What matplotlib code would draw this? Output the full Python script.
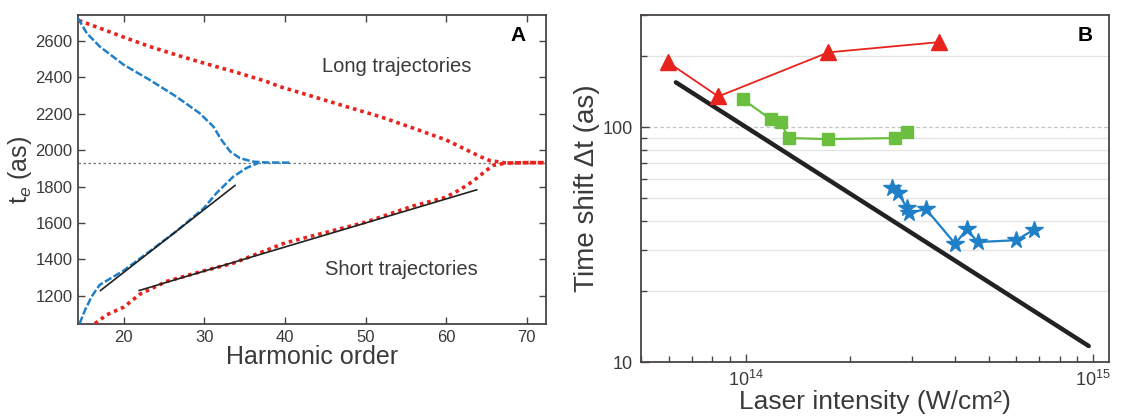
import numpy as np
import matplotlib.pyplot as plt
from matplotlib.ticker import LogLocator, NullFormatter, FixedLocator, FixedFormatter

plt.rcParams['font.family'] = ['Liberation Sans', 'DejaVu Sans']
plt.rcParams['mathtext.fontset'] = 'custom'
plt.rcParams['mathtext.rm'] = 'Liberation Sans'
plt.rcParams['mathtext.it'] = 'Liberation Sans:italic'

# --- panel A: emission time vs harmonic order ---
long_blue_h = [14.3, 15.4, 17.0, 20.0, 23.2, 26.5, 29.4, 31.1, 32.1, 33.2, 34.4, 36.0, 37.7, 40.8]
long_blue_t = [2725, 2642, 2569, 2468, 2386, 2294, 2203, 2130, 2057, 1992, 1956, 1937, 1932, 1931]
short_blue_h = [14.5, 15.2, 16.0, 17.0, 20.0, 23.2, 26.5, 29.9, 31.5, 33.6, 35.2, 36.7]
short_blue_t = [1047, 1123, 1196, 1260, 1339, 1444, 1554, 1680, 1764, 1855, 1901, 1930]

long_red_h = [14.4, 17.0, 20.0, 23.2, 26.5, 29.9, 33.6, 37.7, 39.4, 43.5, 47.6, 51.8, 55.9,
              60.0, 62.5, 64.2, 65.4, 67.5, 70.0, 72.4]
long_red_t = [2712, 2670, 2620, 2569, 2523, 2478, 2432, 2377, 2348, 2294, 2239, 2184, 2121,
              2056, 2002, 1965, 1943, 1929, 1931, 1931]
short_red_h = [16.4, 17.9, 20.0, 22.0, 25.3, 29.9, 33.6, 40.0, 50.0, 55.9, 59.9, 61.7, 63.3,
               64.6, 65.8, 67.5, 70.0, 72.4]
short_red_t = [1047, 1096, 1138, 1209, 1279, 1337, 1379, 1490, 1604, 1693, 1740, 1782, 1828,
               1874, 1916, 1929, 1931, 1931]

fit_long_h = [17.1, 33.8]
fit_long_t = [1229, 1806]
fit_short_h = [21.9, 63.8]
fit_short_t = [1229, 1782]
te_cutoff = 1930

# --- panel B: time shift vs laser intensity ---
tri_I = [5.97e13, 8.34e13, 1.73e14, 3.6e14]
tri_dt = [189, 135, 208, 230]
sq_I = [9.8e13, 1.18e14, 1.26e14, 1.33e14, 1.73e14, 2.68e14, 2.91e14]
sq_dt = [131.6, 108, 105, 89.8, 88.9, 89.8, 95.2]
star_I = [2.63e14, 2.75e14, 2.91e14, 2.95e14, 3.30e14, 4.01e14, 4.32e14, 4.65e14, 6.0e14, 6.73e14]
star_dt = [55.0, 52.4, 45.2, 43.0, 44.8, 31.8, 36.8, 32.4, 33.0, 36.5]
theory_I = [6.3e13, 9.7e14]
theory_dt = [155, 11.7]

RED = "#e8221c"
BLUE = "#1f7fc7"
GREEN = "#6bbf3f"
TXT = "#3a3a3a"
SPINE = "#4a4444"

fig = plt.figure(figsize=(11.28, 4.19), dpi=100)
axA = fig.add_axes([0.0691, 0.2267, 0.4149, 0.7375])
axB = fig.add_axes([0.5683, 0.136, 0.4149, 0.8282])

# ---------- A ----------
axA.axhline(te_cutoff, color="#777777", lw=0.9, ls=(0, (2, 2)), zorder=1)
axA.plot(long_red_h, long_red_t, color=RED, lw=2.6, ls=(0, (1, 1.1)), zorder=3)
axA.plot(short_red_h, short_red_t, color=RED, lw=2.6, ls=(0, (1, 1.1)), zorder=3)
axA.plot(long_blue_h, long_blue_t, color=BLUE, lw=1.8, ls=(0, (3, 1)), zorder=4)
axA.plot(short_blue_h, short_blue_t, color=BLUE, lw=1.8, ls=(0, (3, 1)), zorder=4)
axA.plot(fit_long_h, fit_long_t, color="#222222", lw=1.2, zorder=5)
axA.plot(fit_short_h, fit_short_t, color="#222222", lw=1.2, zorder=5)

axA.set_xlim(14.3, 72.4)
axA.set_ylim(1045, 2742)
axA.set_xticks([20, 30, 40, 50, 60, 70])
axA.set_yticks([1200, 1400, 1600, 1800, 2000, 2200, 2400, 2600])
axA.tick_params(direction="in", top=True, right=True, labelsize=12, colors=SPINE,
                labelcolor=TXT, length=5, width=1, pad=4)
for s in axA.spines.values():
    s.set_color(SPINE)
    s.set_linewidth(1.3)
axA.set_xlabel("Harmonic order", fontsize=18, color=TXT, labelpad=0)
axA.set_ylabel(r"t$_e$ (as)", fontsize=18, color=TXT, labelpad=1)
axA.text(53.9, 2458, "Long trajectories", fontsize=14.5, color=TXT, ha="center", va="center")
axA.text(54.5, 1342, "Short trajectories", fontsize=14.5, color=TXT, ha="center", va="center")
axA.text(0.94, 0.935, "A", transform=axA.transAxes, fontsize=15, fontweight="bold",
         ha="center", va="center", color="black")

# ---------- B ----------
axB.set_xscale("log")
axB.set_yscale("log")
axB.set_xlim(5.0e13, 1.11e15)
axB.set_ylim(10, 300)

grid_minor = [20, 30, 40, 50, 60, 70, 80, 90, 200]
for g in grid_minor:
    axB.axhline(g, color="#e4e4e4", lw=0.9, zorder=0)
axB.axhline(100, color="#c4c4c4", lw=0.9, ls=(0, (3, 2)), zorder=0)

axB.plot(theory_I, theory_dt, color="#222222", lw=3.2, solid_capstyle="round", zorder=3)
axB.plot(tri_I, tri_dt, color=RED, lw=1.3, marker="^", ms=11, zorder=4)
axB.plot(sq_I, sq_dt, color=GREEN, lw=1.6, marker="s", ms=8, zorder=4)
axB.plot(star_I, star_dt, color=BLUE, lw=1.6, marker="*", ms=13, zorder=4)

axB.xaxis.set_major_locator(FixedLocator([1e14, 1e15]))
axB.xaxis.set_major_formatter(FixedFormatter([r"$10^{14}$", r"$10^{15}$"]))
axB.xaxis.set_minor_locator(LogLocator(base=10, subs=np.arange(2, 10)))
axB.xaxis.set_minor_formatter(NullFormatter())
axB.yaxis.set_major_locator(FixedLocator([10, 100]))
axB.yaxis.set_major_formatter(FixedFormatter(["10", "100"]))
axB.yaxis.set_minor_locator(LogLocator(base=10, subs=np.arange(2, 10)))
axB.yaxis.set_minor_formatter(NullFormatter())
axB.tick_params(which="both", direction="in", top=False, right=False, colors=SPINE,
                labelcolor=TXT, labelsize=13, width=1)
axB.tick_params(which="major", length=6)
axB.tick_params(which="minor", length=4)
axB.tick_params(axis="x", which="major", pad=6)
axB.tick_params(axis="y", which="major", pad=6)
for s in axB.spines.values():
    s.set_color(SPINE)
    s.set_linewidth(1.3)
axB.set_xlabel("Laser intensity (W/cm²)", fontsize=19, color=TXT, labelpad=0)
axB.set_ylabel("Time shift Δt (as)", fontsize=20, color=TXT, labelpad=2)
axB.text(0.949, 0.942, "B", transform=axB.transAxes, fontsize=15, fontweight="bold",
         ha="center", va="center", color="black")

fig.savefig("out.png", dpi=100)
